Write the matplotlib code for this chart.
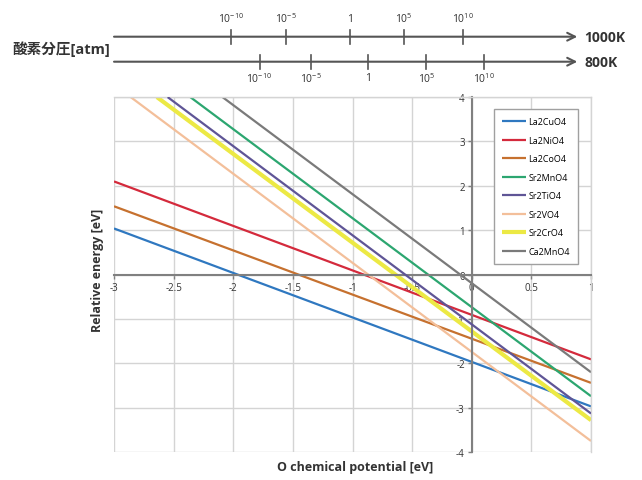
import matplotlib
matplotlib.use("Agg")
import matplotlib.pyplot as plt

plt.rcParams['font.family'] = ['Open Sans', 'Noto Sans CJK JP', 'DejaVu Sans']
plt.rcParams['mathtext.default'] = 'regular'

# Relative energy lines: start point (x, y) and value at mu_O = 1 eV
compounds = ["La2CuO4", "La2NiO4", "La2CoO4", "Sr2MnO4",
             "Sr2TiO4", "Sr2VO4", "Sr2CrO4", "Ca2MnO4"]
startMu = [-3.0, -3.0, -3.0, -2.36, -2.55, -2.86, -2.64, -2.09]
startE = [1.04, 2.10, 1.54, 4.0, 4.0, 4.0, 4.0, 4.0]
endMu = 1.0
endE = [-2.97, -1.91, -2.44, -2.74, -3.13, -3.75, -3.28, -2.20]
lineColors = ["#2f78c0", "#d42a3c", "#c6712f", "#2ca670",
              "#5f5596", "#f3bf9a", "#ece944", "#7a7a7a"]
lineWidths = [1.6, 1.6, 1.6, 1.6, 1.6, 1.6, 3.0, 1.6]

xTicks = [-3, -2.5, -2, -1.5, -1, -0.5, 0, 0.5, 1]
xTickLabels = ["-3", "-2.5", "-2", "-1.5", "-1", "-0.5", "0", "0.5", "1"]
yTicks = [-4, -3, -2, -1, 0, 1, 2, 3, 4]
yTickLabels = ["-4", "-3", "-2", "-1", "0", "1", "2", "3", "4"]

# oxygen partial pressure scales, tick positions in mu_O [eV]
pressureLabels = ["10$^{-10}$", "10$^{-5}$", "1", "10$^{5}$", "10$^{10}$"]
mu1000K = [-2.02, -1.56, -1.02, -0.57, -0.07]
mu800K = [-1.78, -1.35, -0.87, -0.38, 0.10]

fig = plt.figure(figsize=(6.42, 4.81), dpi=100)
ax = fig.add_axes([0.1776, 0.058, 0.743, 0.738])

zorders = [2, 2, 2, 2, 3, 2, 2, 2]
for name, x0, y0, y1, c, lw, z in zip(compounds, startMu, startE, endE,
                                      lineColors, lineWidths, zorders):
    ax.plot([x0, endMu], [y0, y1], color=c, lw=lw, label=name,
            solid_capstyle='butt', zorder=z)

ax.set_xlim(-3, 1)
ax.set_ylim(-4, 4)
ax.set_xticks(xTicks)
ax.set_xticklabels(xTickLabels)
ax.set_yticks(yTicks)
ax.set_yticklabels(yTickLabels)
ax.grid(True, color="#d4d4d4", lw=1)
ax.set_axisbelow(True)

ax.spines['left'].set_position(('data', 0))
ax.spines['bottom'].set_position(('data', 0))
for s in ['left', 'bottom']:
    ax.spines[s].set_color("#808080")
    ax.spines[s].set_linewidth(1.5)
for s in ['top', 'right']:
    ax.spines[s].set_color("#d4d4d4")
    ax.spines[s].set_linewidth(1)
ax.tick_params(axis='both', labelsize=7, colors="#808080", labelcolor="#333333",
               length=3, width=1, direction='out', pad=2)

leg = ax.legend(loc='upper right', bbox_to_anchor=(0.973, 0.966), fontsize=6.5,
                fancybox=False, edgecolor="#a0a0a0", framealpha=1,
                handlelength=2.6, handletextpad=0.3, labelspacing=1.05,
                borderpad=0.9, borderaxespad=0)
leg.get_frame().set_linewidth(1)

fig.text(355 / 642, 1 - 468 / 481, "O chemical potential [eV]", ha='center', va='center',
         fontsize=9, fontweight='bold', color="#333333")
fig.text(97 / 642, 1 - 270 / 481, "Relative energy [eV]", ha='center', va='center',
         rotation=90, fontsize=9, fontweight='bold', color="#333333")

# top panel: pressure scales, y in pixel rows from figure top
top = fig.add_axes([0.1776, 1 - 97 / 481, 0.743, 97 / 481])
top.set_xlim(-3, 1)
top.set_ylim(97, 0)
top.axis('off')

arrowTip = 0.885
rows = [(37.7, mu1000K, 19, "1000K"), (62.7, mu800K, 79, "800K")]
for yRow, ticks, yLab, tLabel in rows:
    top.annotate("", xy=(arrowTip, yRow), xytext=(-3.0, yRow),
                 arrowprops=dict(arrowstyle='->', lw=1.5, color="#555555",
                                 mutation_scale=14, shrinkA=0, shrinkB=0),
                 annotation_clip=False)
    for m, lab in zip(ticks, pressureLabels):
        top.plot([m, m], [yRow - 7, yRow + 7], color="#555555", lw=1.2, clip_on=False)
        top.text(m, yLab, lab, ha='center', va='center', fontsize=7.5, color="#333333")
    top.text(arrowTip + 0.06, yRow, tLabel, ha='left', va='center', fontsize=10,
             fontweight='bold', color="#333333", clip_on=False)

top.text(-3.03, 49, "酸素分圧[atm]", ha='right', va='center', fontsize=10.5,
         fontweight='bold', color="#333333", clip_on=False)

fig.savefig("out.png", dpi=100)
